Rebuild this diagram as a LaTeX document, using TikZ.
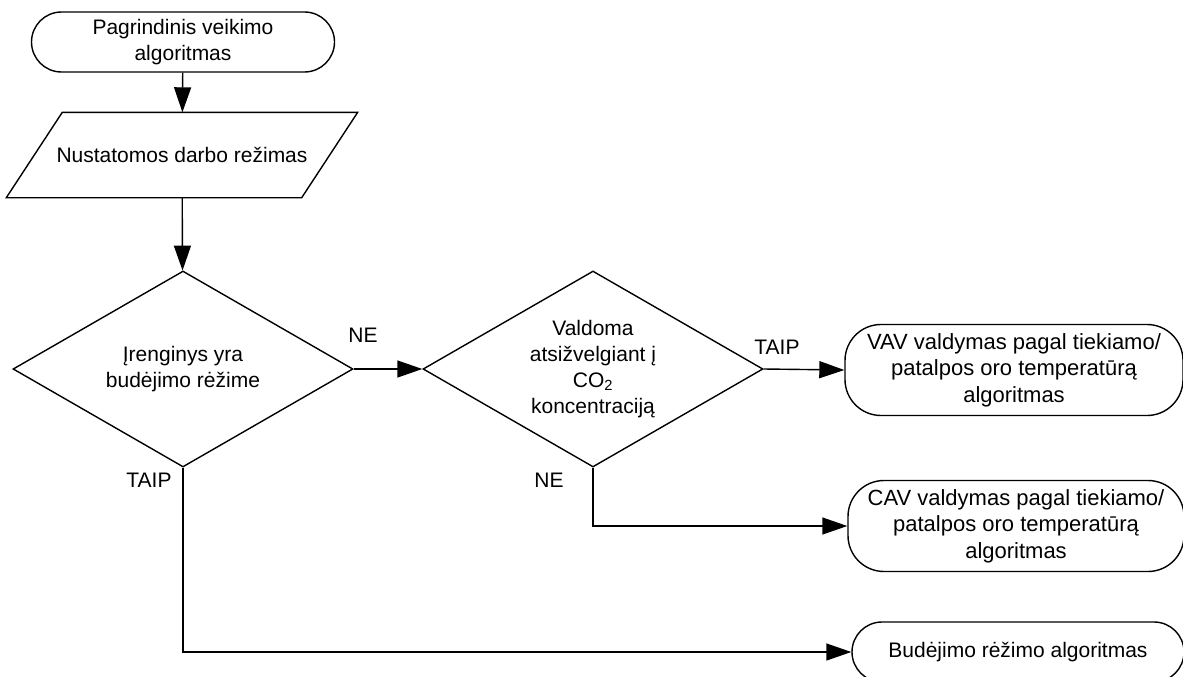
\documentclass[tikz,border=0pt]{standalone}
\usepackage{fontspec}
\setmainfont{Liberation Sans}
\usetikzlibrary{shapes.geometric}
\usetikzlibrary{arrows.meta, positioning}

\begin{document}
\begin{tikzpicture}[x=1pt, y=-1pt,
line width=1.4pt,
font=\fontsize{21}{26}\selectfont,
term_box/.style={rectangle, draw, align=center, inner sep=0pt},
algo_box/.style={term_box, rounded corners=36pt, minimum height=91pt, font=\fontsize{22}{26.5}\selectfont},
io_box/.style={rectangle, minimum width=350pt, minimum height=84pt, inner sep=0pt},
cond_box/.style={diamond, draw, align=center, shape aspect=1.73, minimum width=340pt, minimum height=196pt, inner sep=0pt},
flow_arrow/.style={-{Triangle[length=25pt, width=17pt]}}
]
\useasboundingbox (0,0) rectangle (1183,677);

% Draw start and input
    \node[term_box, rounded corners=30pt, minimum width=303pt, minimum height=60pt] (start) at (183,42) {Pagrindinis veikimo\\algoritmas};
    \node[io_box] (mode) at (182,155) {Nustatomos darbo režimas};
    \draw (mode.south west) -- ([xshift=56pt]mode.north west) -- (mode.north east) -- ([xshift=-56pt]mode.south east) -- cycle;

% Draw decisions
    \node[cond_box] (standby) at (183,369) {Įrenginys yra\\budėjimo rėžime};
    \node[cond_box] (co2) at (593,369) {Valdoma\\atsižvelgiant į\\CO\textsubscript{2}\\koncentraciją};

% Draw algorithms
    \node[algo_box, minimum width=338pt] (vav) at (1014,370) {VAV valdymas pagal tiekiamo/\\patalpos oro temperatūrą\\algoritmas};
    \node[algo_box, minimum width=336pt] (cav) at (1016,526) {CAV valdymas pagal tiekiamo/\\patalpos oro temperatūrą\\algoritmas};
    \node[term_box, rounded corners=30pt, minimum width=332pt, minimum height=60pt] (bud) at (1018,652) {Budėjimo rėžimo algoritmas};

% Draw labels
    \node (ne1) at (363,335) {NE};
    \node (taip1) at (149,480) {TAIP};
    \node (taip2) at (777,347) {TAIP};
    \node (ne2) at (549,480) {NE};

% Draw arrows
    \draw[flow_arrow] (start) -- (mode);
    \draw[flow_arrow] (mode) -- (standby);
    \draw[flow_arrow] (standby.east) -- (co2.west);
    \draw[flow_arrow] (co2.east) -- (vav.west);
    \draw[flow_arrow] (co2.south) |- (cav.west);
    \draw[flow_arrow] (standby.south) |- (bud.west);
\end{tikzpicture}
\end{document}
